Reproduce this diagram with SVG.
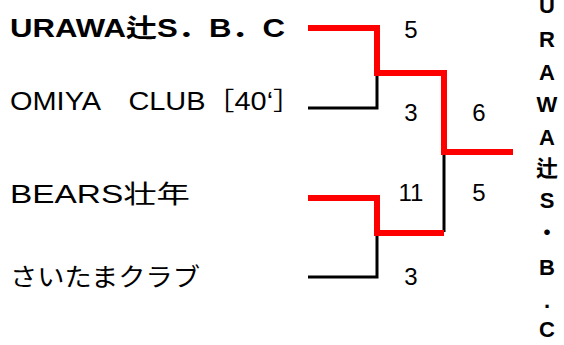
<svg xmlns="http://www.w3.org/2000/svg" width="564" height="345" viewBox="0 0 564 345">
<style>
.t{font-family:"Liberation Sans","Noto Sans CJK JP",sans-serif;font-size:25px;fill:#000}
.b{font-weight:bold}
.s{font-family:"Liberation Sans",sans-serif;font-size:24px;fill:#000;text-anchor:middle}
.v{font-family:"Liberation Sans","Noto Sans CJK JP",sans-serif;font-size:22px;font-weight:bold;fill:#000;text-anchor:middle}
.r{fill:none;stroke:#ff0000;stroke-width:6;stroke-linecap:square;stroke-linejoin:miter}
.k{fill:none;stroke:#000;stroke-width:3}
</style>
<rect width="564" height="345" fill="#fff"/>
<g id="connectors">
<polyline class="k" points="308,108 377,108 377,76"/>
<polyline class="k" points="308,277 377,277 377,235"/>
<polyline class="k" points="444,152 444,232"/>
<polyline class="r" points="311,28 377,28 377,73 444,73 444,152 510,152"/>
<polyline class="r" points="311,198 377,198 377,233 441,233"/>
</g>
<g id="team1"><text class="t b" x="10" y="37" textLength="275" lengthAdjust="spacingAndGlyphs">URAWA辻S．B．C</text></g>
<g id="team2"><text class="t" x="10" y="110" textLength="292" lengthAdjust="spacingAndGlyphs">OMIYA　CLUB［40‘］</text></g>
<g id="team3"><text class="t" x="10" y="203" textLength="180" lengthAdjust="spacingAndGlyphs">BEARS壮年</text></g>
<g id="team4"><text class="t" x="10" y="286" textLength="190" lengthAdjust="spacingAndGlyphs">さいたまクラブ</text></g>
<g id="scores">
<text class="s" x="411" y="38">5</text>
<text class="s" x="411" y="121">3</text>
<text class="s" x="479" y="121">6</text>
<text class="s" x="411" y="201">11</text>
<text class="s" x="479" y="201">5</text>
<text class="s" x="411" y="285">3</text>
</g>
<g id="winner">
<text class="v" x="547" y="13">U</text>
<text class="v" x="547" y="47">R</text>
<text class="v" x="547" y="80">A</text>
<text class="v" x="547" y="112">W</text>
<text class="v" x="547" y="145">A</text>
<text class="v" x="547" y="176">辻</text>
<text class="v" x="547" y="208">S</text>
<text class="v" x="547" y="240">・</text>
<text class="v" x="547" y="275">B</text>
<text class="v" x="547" y="308">.</text>
<text class="v" x="547" y="337">C</text>
</g>
</svg>
